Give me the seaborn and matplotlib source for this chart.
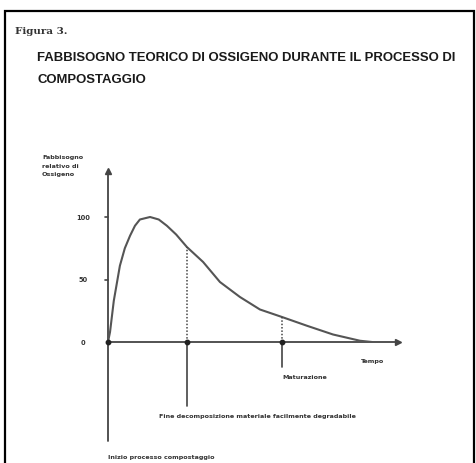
import matplotlib
matplotlib.use("Agg")
import matplotlib.pyplot as plt
import seaborn as sns
import pandas as pd
from matplotlib.patches import Rectangle

sns.set_style("white")
plt.rcParams['font.family'] = ['DejaVu Sans']

# data (time in arbitrary units, oxygen demand relative)
tempo = [0, 0.7, 2.0, 4.1, 5.8, 7.6, 9.3, 11.0, 14.5, 17.5, 20.3, 23.5, 27.2, 32.8,
         38.6, 45.5, 52.4, 60.0, 68.6, 77.6, 86.9, 91.0]
fabbisogno = [0, 8, 33, 61, 75, 85, 93, 98, 100, 98, 93, 86, 76, 64,
              48, 36, 26, 20, 13, 6, 1, 0]
yticks = [0, 50, 100]
eventi = [27.2, 60.0]
eventi_val = [76, 20]

df = pd.DataFrame({"tempo": tempo, "fabbisogno": fabbisogno})

fig = plt.figure(figsize=(4.76, 4.64), dpi=100)
fig.patch.set_facecolor("white")

# outer frame
fig.add_artist(Rectangle((5/476, -0.05), (474-5)/476, (464-12)/464 + 0.05,
                         transform=fig.transFigure, fill=False,
                         edgecolor="black", linewidth=1.6))

fig.text(15/476, 1 - 31/464, "Figura 3.", family="DejaVu Serif",
         fontsize=7.5, fontweight="bold", color="#333333", va="center")
title_fam = ["Liberation Sans", "DejaVu Sans"]
t1 = fig.text(37/476, 1 - 58/464, "FABBISOGNO TEORICO DI OSSIGENO DURANTE IL PROCESSO DI",
              family=title_fam, fontsize=12, fontweight="bold",
              color="#1a1a1a", va="center")
t2 = fig.text(37/476, 1 - 80/464, "COMPOSTAGGIO", family=title_fam,
              fontsize=12, fontweight="bold", color="#1a1a1a", va="center")
# fit the title line to the width it has in the reference
r = fig.canvas.get_renderer()
w = t1.get_window_extent(renderer=r).width
if w > 419:
    fs = 12 * 419 / w
    t1.set_fontsize(fs)
    t2.set_fontsize(fs)

ax = fig.add_axes([108/476, 121/464, 290/476, 171/464])
ax.set_xlim(0, 100)
ax.set_ylim(0, 136.8)
for s in ax.spines.values():
    s.set_visible(False)
ax.set_xticks([])
ax.set_yticks([])

col = "#444444"
# axes lines
ax.plot([0, 0], [-79, 136.8], color=col, lw=1.3, clip_on=False)
ax.plot([0, 100], [0, 0], color=col, lw=1.3, clip_on=False)
ax.plot([100], [0], marker=">", color=col, ms=5, clip_on=False)
ax.plot([0], [136.8], marker="^", color=col, ms=5, clip_on=False)

# y ticks and labels
for t in yticks:
    if t > 0:
        ax.plot([-1.2, 0], [t, t], color=col, lw=1.2, clip_on=False)
    ax.text(-8.6, t, str(t), ha="center", va="center", fontsize=4.8,
            fontweight="bold", color="#333333")

# curve
sns.lineplot(data=df, x="tempo", y="fabbisogno", ax=ax, color="#555555",
             lw=1.5, legend=False)

# event lines
ax.vlines(eventi, 0, eventi_val, colors=col, linestyles=(0, (1, 1.2)), lw=1.1)
ax.plot([eventi[0], eventi[0]], [0, -51], color=col, lw=1.2, clip_on=False)
ax.plot([eventi[1], eventi[1]], [0, -20], color=col, lw=1.2, clip_on=False)
ax.plot([0] + eventi, [0, 0, 0], "o", color="#222222", ms=3.2, clip_on=False)

ax.set_xlabel("")
ax.set_ylabel("")

fs_small = 4.6
ax.text(-22.8, 150, "Fabbisogno\nrelativo di\nOssigeno", ha="left", va="top",
        fontsize=fs_small, fontweight="bold", color="#333333", linespacing=1.8)
ax.text(87.2, -15, "Tempo", ha="left", va="center", fontsize=fs_small,
        fontweight="bold", color="#333333")
ax.text(60, -28, "Maturazione", ha="left", va="center", fontsize=fs_small,
        fontweight="bold", color="#333333")
ax.text(51.7, -59, "Fine decomposizione materiale facilmente degradabile",
        ha="center", va="center", fontsize=fs_small, fontweight="bold", color="#333333")
ax.text(0, -92, "Inizio processo compostaggio", ha="left", va="center",
        fontsize=fs_small, fontweight="bold", color="#333333")

fig.savefig("out.png", dpi=100, facecolor="white")
